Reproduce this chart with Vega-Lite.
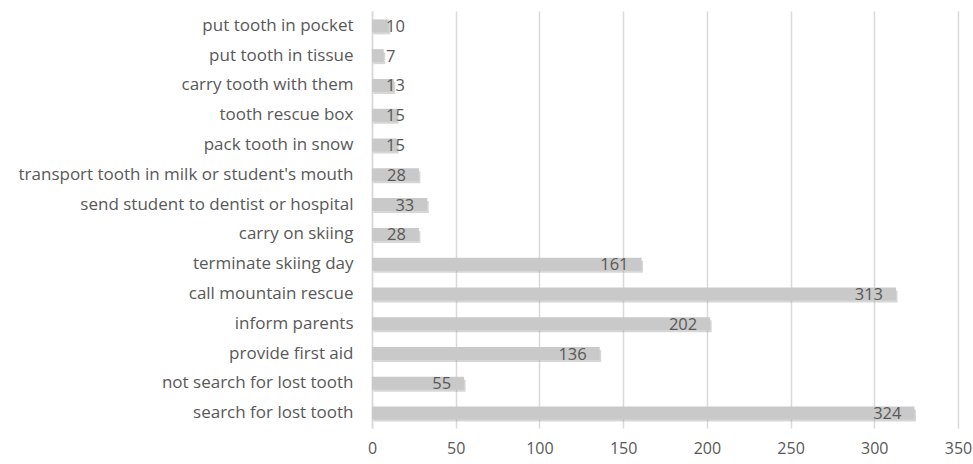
{
  "$schema": "https://vega.github.io/schema/vega-lite/v6.json",
  "autosize": "none",
  "width": 586,
  "height": 417,
  "padding": {"left": 372, "top": 11, "right": 15, "bottom": 36},
  "background": "white",
  "config": {
    "view": {"stroke": null},
    "font": "Open Sans",
    "axis": {"labelFont": "Open Sans", "labelColor": "#595959", "labelFontSize": 16.5}
  },
  "data": {
    "values": [
      {"action": "put tooth in pocket", "count": 10},
      {"action": "put tooth in tissue\u00a0", "count": 7},
      {"action": "carry tooth with them", "count": 13},
      {"action": "tooth rescue box", "count": 15},
      {"action": "pack tooth in snow", "count": 15},
      {"action": "transport tooth in milk or student's mouth", "count": 28},
      {"action": "send student to dentist or hospital", "count": 33},
      {"action": "carry on skiing", "count": 28},
      {"action": "terminate skiing day", "count": 161},
      {"action": "call mountain rescue\u00a0", "count": 313},
      {"action": "inform parents", "count": 202},
      {"action": "provide first aid", "count": 136},
      {"action": "not search for lost tooth", "count": 55},
      {"action": "search for lost tooth\u00a0", "count": 324}
    ]
  },
  "encoding": {
    "y": {
      "field": "action", "type": "nominal", "sort": null, "title": null,
      "axis": {"ticks": false, "labelPadding": 19, "labelFontSize": 17, "domainColor": "#d9d9d9", "domainWidth": 1.5, "labelLimit": 400}
    }
  },
  "layer": [
    {
      "mark": {"type": "bar", "size": 12, "color": "#9a9a9a", "opacity": 0.4, "xOffset": 1.5, "yOffset": 2.5},
      "encoding": {
        "x": {
          "field": "count", "type": "quantitative", "title": null,
          "scale": {"domain": [0, 350], "nice": false},
          "axis": {"values": [0, 50, 100, 150, 200, 250, 300, 350], "grid": true, "gridColor": "#d9d9d9", "gridWidth": 1.5, "domain": false, "ticks": false, "labelPadding": 12, "labelFlush": false, "labelFontSize": 16}
        }
      }
    },
    {
      "mark": {"type": "bar", "size": 13, "color": "#c9c9c9"},
      "encoding": {"x": {"field": "count", "type": "quantitative"}}
    },
    {
      "transform": [{"filter": "datum.count >= 20"}],
      "mark": {"type": "text", "align": "right", "baseline": "middle", "dx": -13, "dy": 1, "fontSize": 16.5, "color": "#595959"},
      "encoding": {
        "x": {"field": "count", "type": "quantitative"},
        "text": {"field": "count", "type": "quantitative"}
      }
    },
    {
      "transform": [{"filter": "datum.count < 20"}],
      "mark": {"type": "text", "align": "left", "baseline": "middle", "dx": 14, "dy": 1, "fontSize": 16.5, "color": "#595959"},
      "encoding": {
        "x": {"datum": 0},
        "text": {"field": "count", "type": "quantitative"}
      }
    }
  ]
}
